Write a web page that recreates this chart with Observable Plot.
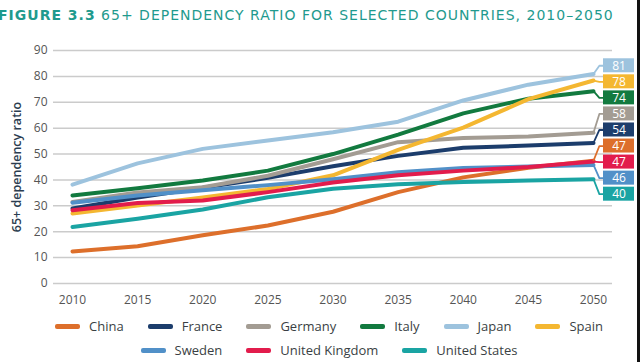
<!DOCTYPE html>
<html>
<head>
<meta charset="utf-8">
<script src="https://cdn.jsdelivr.net/npm/d3@7"></script>
<script src="https://cdn.jsdelivr.net/npm/@observablehq/plot@0.6"></script>
<style>
  html, body { margin: 0; padding: 0; background: #fff; }
  body { width: 640px; height: 362px; position: relative; overflow: hidden; font-family: "Open Sans", sans-serif; }
  #title { position: absolute; left: -2px; top: 7px; white-space: nowrap; font-family: "DejaVu Sans", sans-serif; font-size: 14px; letter-spacing: 1px; color: #1f9a8e; }
  #title b { font-weight: bold; }
  #chart { position: absolute; left: 0; top: 36px; }
  .legend-row { position: absolute; left: 0; width: 640px; display: flex; justify-content: center; padding-left: 18px; box-sizing: border-box; font-size: 13px; color: #3a3f44; }
  .item { display: flex; align-items: center; margin: 0 12px; }
  .sw { width: 25px; height: 5px; border-radius: 2px; margin-right: 9px; }
  #edge { position: absolute; right: 0; top: 0; width: 3px; height: 362px; background: #111; }
</style>
</head>
<body>
<div id="title"><b>FIGURE 3.3</b> 65+ DEPENDENCY RATIO FOR SELECTED COUNTRIES, 2010–2050</div>
<div id="chart"></div>
<div id="legend1" class="legend-row" style="top:317px"></div>
<div id="legend2" class="legend-row" style="top:341px"></div>
<div id="edge"></div>
<script>
const years = [2010, 2015, 2020, 2025, 2030, 2035, 2040, 2045, 2050];
const countries = ["China", "France", "Germany", "Italy", "Japan", "Spain", "Sweden", "United Kingdom", "United States"];
const colors = ["#dd6f2b", "#1c3d6c", "#a39c93", "#127a3f", "#9dc3de", "#f4b731", "#5190c8", "#e21c4c", "#1aa4a3"];

const china   = [12.4, 14.4, 18.6, 22.4, 27.7, 35.3, 41.0, 44.7, 47.4];
const france  = [29.0, 33.2, 37.0, 40.8, 45.3, 49.3, 52.4, 53.3, 54.3];
const germany = [31.5, 35.2, 37.2, 41.6, 48.0, 54.6, 56.2, 56.8, 58.2];
const italy   = [34.0, 36.8, 39.8, 43.6, 50.0, 57.5, 65.7, 71.4, 74.3];
const japan   = [38.2, 46.4, 52.0, 55.2, 58.4, 62.5, 70.7, 76.8, 80.9];
const spain   = [27.0, 30.1, 33.2, 36.5, 41.8, 51.6, 60.2, 71.2, 78.4];
const sweden  = [31.2, 34.0, 36.0, 38.0, 40.3, 43.0, 44.6, 45.2, 45.8];
const uk      = [28.3, 31.1, 32.1, 35.3, 39.0, 41.8, 43.6, 45.0, 47.1];
const us      = [21.8, 25.0, 28.6, 33.3, 36.6, 38.3, 39.2, 39.8, 40.3];
const seriesValues = [china, france, germany, italy, japan, spain, sweden, uk, us];

const yTicks = [0, 10, 20, 30, 40, 50, 60, 70, 80, 90];
const legendRow1 = ["China", "France", "Germany", "Italy", "Japan", "Spain"];
const legendRow2 = ["Sweden", "United Kingdom", "United States"];

// label stacking (in value units): first slot and spacing between slots
const slotTop = 84.1, slotStep = 6.2;

const colorOf = c => colors[countries.indexOf(c)];
const rows = countries.flatMap((c, i) => years.map((y, j) => ({country: c, year: y, value: seriesValues[i][j]})));

const lastYear = years[years.length - 1];
const ends = countries.map((c, i) => ({country: c, year: lastYear, value: seriesValues[i][years.length - 1]}))
  .sort((a, b) => b.value - a.value)
  .map((d, k) => ({...d, slot: slotTop - k * slotStep, label: String(Math.round(d.value))}));

const connectors = ends.flatMap(d => [
  {country: d.country, year: d.year, y: d.value},
  {country: d.country, year: d.year + 0.45, y: d.slot},
  {country: d.country, year: d.year + 0.77, y: d.slot}
]);

const plot = Plot.plot({
  width: 640,
  height: 276,
  marginLeft: 53,
  marginRight: 28,
  marginTop: 14,
  marginBottom: 29,
  style: {fontFamily: "Open Sans, sans-serif", fontSize: "12px", color: "#555"},
  x: {domain: [2010, 2050], insetLeft: 19, insetRight: 19},
  y: {domain: [0, 90]},
  color: {domain: countries, range: colors},
  marks: [
    Plot.gridY(yTicks, {stroke: "#cbcbcb", strokeOpacity: 1, strokeWidth: 1.5}),
    Plot.axisY(yTicks, {tickSize: 0, tickPadding: 6, label: null, fill: "#555"}),
    Plot.axisX(years, {tickSize: 0, tickPadding: 12, label: null, tickFormat: d => String(d), fill: "#555"}),
    Plot.text(["65+ dependency ratio"], {frameAnchor: "left", textAnchor: "middle", dx: -37, rotate: -90, fontSize: 12.5, fontWeight: 600, fill: "#2b3d50"}),
    Plot.line(rows, {x: "year", y: "value", z: "country", stroke: "country", strokeWidth: 4, strokeLinejoin: "round"}),
    Plot.line(connectors, {x: "year", y: "y", z: "country", stroke: "country", strokeWidth: 1.8}),
    Plot.rect(ends, {x1: "year", x2: "year", y1: "slot", y2: "slot", fill: "country", insetLeft: 10, insetRight: -41, insetTop: -7, insetBottom: -7}),
    Plot.text(ends, {x: "year", y: "slot", text: "label", fill: "white", dx: 25.5, fontSize: 12, lineHeight: 1})
  ]
});
document.getElementById("chart").appendChild(plot);

function buildLegend(el, names) {
  for (const n of names) {
    const item = document.createElement("div");
    item.className = "item";
    const sw = document.createElement("div");
    sw.className = "sw";
    sw.style.background = colorOf(n);
    const t = document.createElement("span");
    t.textContent = n;
    item.appendChild(sw);
    item.appendChild(t);
    el.appendChild(item);
  }
}
buildLegend(document.getElementById("legend1"), legendRow1);
buildLegend(document.getElementById("legend2"), legendRow2);
</script>
</body>
</html>
